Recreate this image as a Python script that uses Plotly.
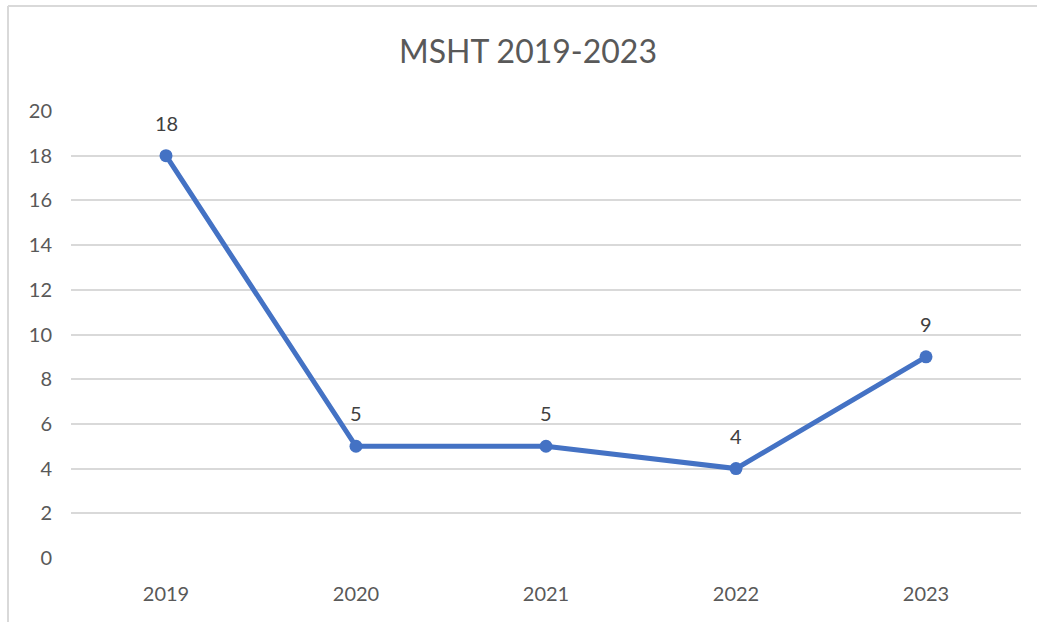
import plotly.graph_objects as go

years = ["2019", "2020", "2021", "2022", "2023"]
values = [18, 5, 5, 4, 9]
y_ticks = [0, 2, 4, 6, 8, 10, 12, 14, 16, 18, 20]

FONT = "Lato, 'Open Sans', sans-serif"
TXT = "#595959"
BLUE = "#4472C4"

fig = go.Figure()
fig.add_trace(go.Scatter(
    x=years, y=values, mode="lines+markers",
    line=dict(color=BLUE, width=5),
    marker=dict(color=BLUE, size=13),
    hoverinfo="x+y", showlegend=False,
))
for i, v in enumerate(values):
    fig.add_annotation(x=i, y=v, xref="x", yref="y", text=str(v), showarrow=False,
                       yshift=33, font=dict(family=FONT, size=20, color="#404040"))

W, H = 1037, 622
L, R, T, B = 71, 16, 111, 64
pw, ph = W - L - R, H - T - B

def px(x):
    return (x - L) / pw

def py(y):
    return 1 - (y - T) / ph

# chart border (left and top edges visible)
fig.add_shape(type="line", xref="paper", yref="paper", x0=px(8), x1=px(8), y0=py(6), y1=py(640),
              line=dict(color="#d9d9d9", width=2))
fig.add_shape(type="line", xref="paper", yref="paper", x0=px(8), x1=px(1040), y0=py(6), y1=py(6),
              line=dict(color="#d9d9d9", width=2))

fig.update_layout(
    width=W, height=H,
    margin=dict(l=L, r=R, t=T, b=B),
    paper_bgcolor="white", plot_bgcolor="white",
    title=dict(text="MSHT 2019-2023", x=528 / W, xref="container", xanchor="center",
               y=1 - 52 / H, yref="container", yanchor="middle",
               font=dict(family=FONT, size=32, color=TXT)),
    font=dict(family=FONT, color=TXT),
    xaxis=dict(type="category", range=[-0.5, 4.5], showgrid=False, zeroline=False,
               showline=False, ticks="", ticklabelstandoff=22,
               tickfont=dict(family=FONT, size=20, color=TXT)),
    yaxis=dict(range=[0, 20], tickvals=y_ticks, showgrid=True, gridcolor="#d9d9d9",
               gridwidth=2, zeroline=False, showline=False, ticks="",
               ticklabelstandoff=18, tickfont=dict(family=FONT, size=20, color=TXT)),
)

fig.write_html("out.html", config={"displayModeBar": False},
               post_script="document.body.style.margin='0';document.body.style.overflow='hidden';")
